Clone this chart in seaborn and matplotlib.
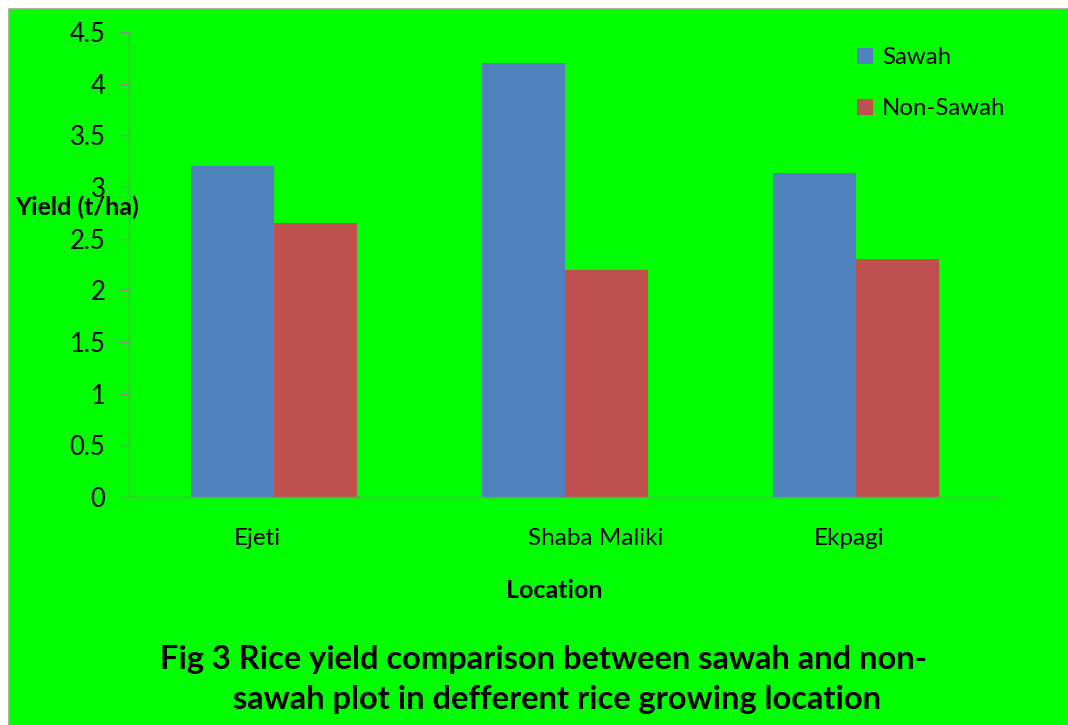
import matplotlib
matplotlib.use("Agg")
import matplotlib.pyplot as plt
import matplotlib.patches as mpatches
import seaborn as sns
import pandas as pd

locations = ["Ejeti", "Shaba Maliki", "Ekpagi"]
sawah = [3.2, 4.2, 3.14]
non_sawah = [2.65, 2.2, 2.3]
series_names = ["Sawah", "Non-Sawah"]
y_ticks = [0, 0.5, 1, 1.5, 2, 2.5, 3, 3.5, 4, 4.5]
y_tick_labels = ["0", "0.5", "1", "1.5", "2", "2.5", "3", "3.5", "4", "4.5"]
colors = ["#4F81BD", "#C0504D"]
bg = "#00FF00"

df = pd.DataFrame({
    "Location": locations * 2,
    "Yield": sawah + non_sawah,
    "Series": [series_names[0]] * 3 + [series_names[1]] * 3,
})

sns.set_theme(style="white")
plt.rcParams["font.family"] = ["Lato", "DejaVu Sans"]
plt.rcParams["text.color"] = "black"
plt.rcParams["xtick.color"] = "black"
plt.rcParams["ytick.color"] = "black"

W, H = 1068, 725
fig = plt.figure(figsize=(W / 100, H / 100), dpi=100)
fig.patch.set_facecolor("white")
fig.patches.append(mpatches.Rectangle((8.5 / W, -0.01), 1.02, (H - 8.5) / H + 0.01,
                                      transform=fig.transFigure, facecolor=bg,
                                      edgecolor="#A0A0A0", linewidth=1.2, zorder=-10))

ax = fig.add_axes([129 / W, 1 - 497 / H, (1001 - 129) / W, (497 - 32) / H])
ax.set_facecolor(bg)
ax.patch.set_alpha(0)

sns.barplot(data=df, x="Location", y="Yield", hue="Series", order=locations,
            hue_order=series_names, palette=colors, width=0.57, saturation=1,
            ax=ax, legend=False, edgecolor="none", linewidth=0)

ax.set_xlim(-0.5, 2.5)
ax.set_ylim(0, 4.5)
ax.set_yticks(y_ticks)
ax.set_yticklabels(y_tick_labels)
ax.set_xticks([-0.06, 1.107, 1.976])
ax.set_xticklabels(locations)
ax.tick_params(axis="x", length=0, pad=22, labelsize=17.5, labelcolor="black")
ax.tick_params(axis="y", length=7, width=1, color="#8C8C8C", pad=10, labelsize=18.5,
               labelcolor="black", direction="out", left=True)
for s in ["top", "right"]:
    ax.spines[s].set_visible(False)
for s in ["left", "bottom"]:
    ax.spines[s].set_color("#8C8C8C")
    ax.spines[s].set_linewidth(1)
ax.set_xlabel("")
ax.set_ylabel("")

fig.text(15 / W, 1 - 207 / H, "Yield (t/ha)", fontsize=18, fontweight="bold",
         ha="left", va="center", color="black")
fig.text(554 / W, 1 - 590 / H, "Location", fontsize=18, fontweight="bold",
         ha="center", va="center", color="black")
fig.text(544 / W, 1 - 660 / H, "Fig 3 Rice yield comparison between sawah and non-",
         fontsize=23.5, fontweight="bold", ha="center", va="center", color="black")
fig.text(557 / W, 1 - 700 / H, "sawah plot in defferent rice growing location",
         fontsize=23.5, fontweight="bold", ha="center", va="center", color="black")

handles = [mpatches.Patch(facecolor=c, edgecolor="none") for c in colors]
leg = ax.legend(handles, series_names, loc="upper left",
                bbox_to_anchor=(857 / W, 1 - 47 / H), bbox_transform=fig.transFigure,
                frameon=False, fontsize=17.3, handlelength=0.65, handleheight=0.65,
                handletextpad=0.4, labelspacing=1.25, borderaxespad=0, borderpad=0)
for t in leg.get_texts():
    t.set_color("black")

fig.savefig("out.png", dpi=100, facecolor=fig.get_facecolor())
